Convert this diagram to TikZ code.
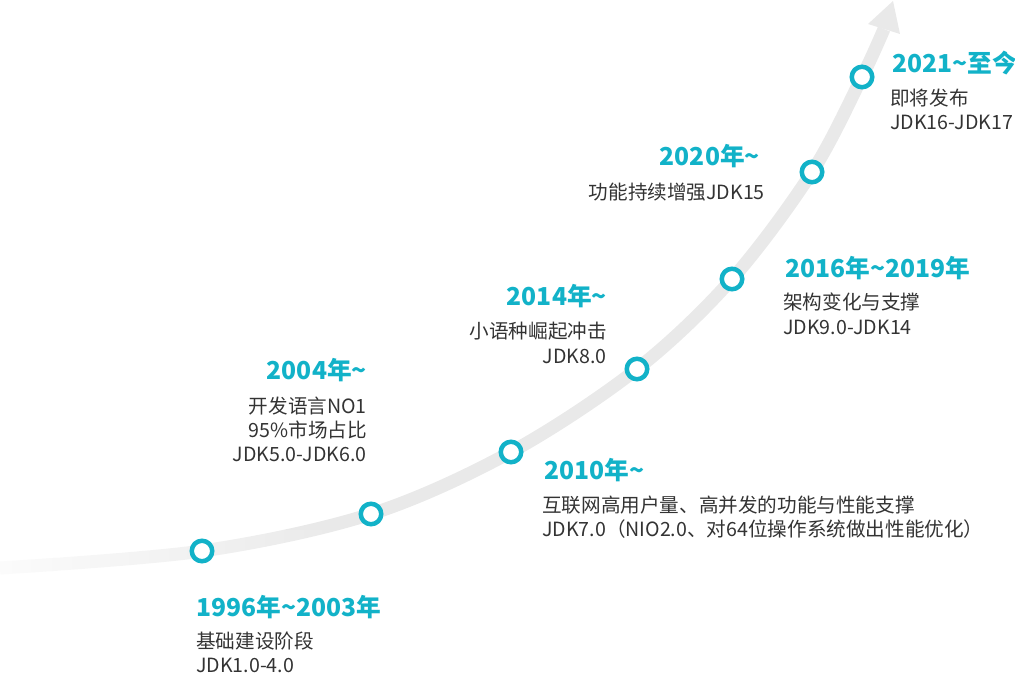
\documentclass[tikz,border=0pt]{standalone}
\usepackage{fontspec}
\setmainfont{Noto Sans CJK SC}
\usetikzlibrary{fadings}
\definecolor{teal1}{HTML}{12B2C8}
\definecolor{txt}{HTML}{333333}
\definecolor{band}{HTML}{E9E9E9}
\tikzfading[name=fadeR, left color=transparent!0, right color=transparent!100]
\tikzset{
  ring/.style={circle, draw=teal1, line width=4.5pt, fill=white, minimum size=20.5pt, inner sep=0pt},
  ttl/.style={inner sep=0pt, text=teal1, font=\fontsize{24.7}{29}\selectfont\bfseries},
  bdy/.style={inner sep=0pt, text=txt, font=\fontsize{19.6}{24.5}\selectfont},
}
\begin{document}
\begin{tikzpicture}[x=1pt, y=-1pt]
\useasboundingbox (0,0) rectangle (1015,676);
\coordinate (s) at (0,568);
\coordinate (p1) at (202,551);
\coordinate (p2) at (371,514);
\coordinate (p3) at (511,452);
\coordinate (p4) at (637,369);
\coordinate (p5) at (732,279);
\coordinate (p6) at (812,172);
\coordinate (p7) at (862,77);
\coordinate (hb) at (884,29);
\coordinate (hl) at (868,24);
\coordinate (hr) at (900,34);
\coordinate (tip) at (893,1);
% band
\draw[band, line width=13pt] plot[smooth, tension=0.55] coordinates {(s) (p1) (p2) (p3) (p4) (p5) (p6) (p7) (hb)};
\fill[band] (hl) -- (tip) -- (hr) -- cycle;
\fill[white, path fading=fadeR, fill opacity=0.85] (-1,530) rectangle (360,595);
% rings
\foreach \i in {1,...,7} { \node[ring] (c\i) at (p\i) {}; }
% texts
\node[ttl, anchor=base west] (t1) at (196,616) {1996年\textasciitilde 2003年};
\node[bdy, anchor=base west] (b1a) at (196,648) {基础建设阶段};
\node[bdy, anchor=base west] (b1b) at (196,672) {JDK1.0-4.0};

\node[ttl, anchor=base east] (t2) at (367,380) {2004年\textasciitilde};
\node[bdy, anchor=base east] (b2a) at (367,413) {开发语言NO1};
\node[bdy, anchor=base east] (b2b) at (367,437) {95\%市场占比};
\node[bdy, anchor=base east] (b2c) at (367,461) {JDK5.0-JDK6.0};

\node[ttl, anchor=base west] (t3) at (544,479) {2010年\textasciitilde};
\node[bdy, anchor=base west] (b3a) at (542,512) {互联网高用户量、高并发的功能与性能支撑};
\node[bdy, anchor=base west] (b3b) at (542,536) {JDK7.0（NIO2.0、对64位操作系统做出性能优化）};

\node[ttl, anchor=base east] (t4) at (607,306) {2014年\textasciitilde};
\node[bdy, anchor=base east] (b4a) at (607,339) {小语种崛起冲击};
\node[bdy, anchor=base east] (b4b) at (607,363) {JDK8.0};

\node[ttl, anchor=base west] (t5) at (785,278) {2016年\textasciitilde 2019年};
\node[bdy, anchor=base west] (b5a) at (783,310) {架构变化与支撑};
\node[bdy, anchor=base west] (b5b) at (783,335) {JDK9.0-JDK14};

\node[ttl, anchor=base east] (t6) at (760,166) {2020年\textasciitilde};
\node[bdy, anchor=base east] (b6a) at (765,200) {功能持续增强JDK15};

\node[ttl, anchor=base west] (t7) at (892,73) {2021\textasciitilde 至今};
\node[bdy, anchor=base west] (b7a) at (890,106) {即将发布};
\node[bdy, anchor=base west] (b7b) at (890,130) {JDK16-JDK17};
\end{tikzpicture}
\end{document}
